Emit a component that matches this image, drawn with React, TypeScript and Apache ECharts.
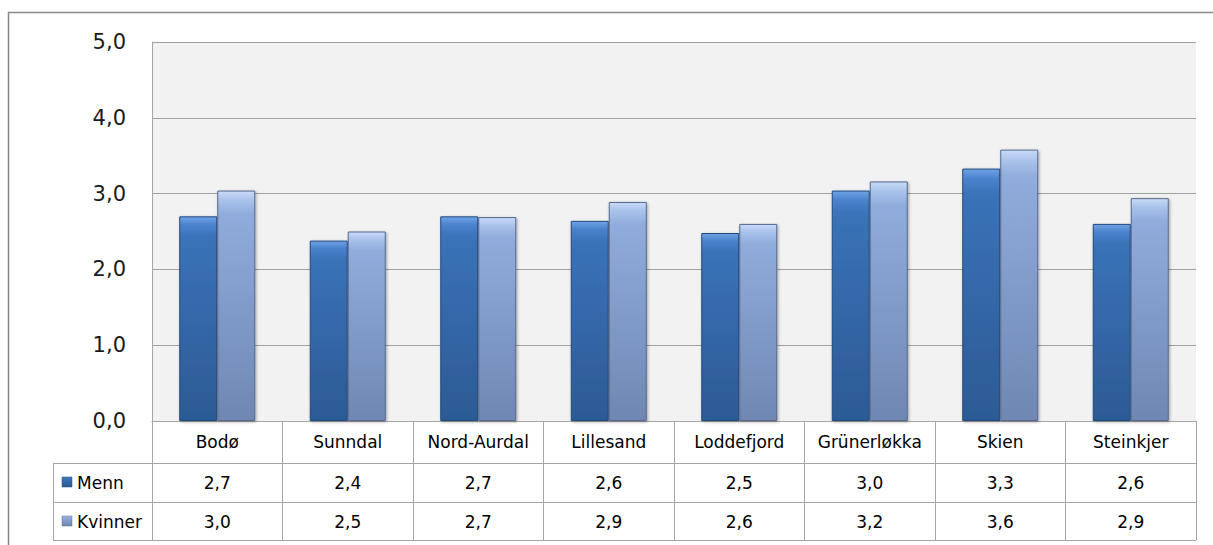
import React, { useEffect, useRef } from "react";
import * as echarts from "echarts";

const categories = ["Bodø", "Sunndal", "Nord-Aurdal", "Lillesand", "Loddefjord", "Grünerløkka", "Skien", "Steinkjer"];
const menn = [2.7, 2.38, 2.7, 2.64, 2.48, 3.04, 3.33, 2.6];
const kvinner = [3.04, 2.5, 2.69, 2.89, 2.6, 3.16, 3.58, 2.94];
const seriesNames = ["Menn", "Kvinner"];
const yMin = 0;
const yMax = 5;
const yInterval = 1;

const fmt = (v: number) => (Math.round(v * 10) / 10).toFixed(1).replace(".", ",");

const FONT = "DejaVu Sans";
const LINE = "#a6a6a6";

export default function App() {
  const ref = useRef<HTMLDivElement>(null);
  useEffect(() => {
    if (!ref.current) return;
    const chart = echarts.init(ref.current, null, { renderer: "svg" });
    const G = echarts.graphic.LinearGradient;
    const mennFill = new G(0, 0, 0, 1, [
      { offset: 0, color: "#6fa3e6" },
      { offset: 0.04, color: "#4a82cc" },
      { offset: 0.1, color: "#3a72b8" },
      { offset: 1, color: "#2c5a94" },
    ]);
    const kvinnerFill = new G(0, 0, 0, 1, [
      { offset: 0, color: "#c8dbf7" },
      { offset: 0.04, color: "#a9c2ea" },
      { offset: 0.1, color: "#90acdc" },
      { offset: 1, color: "#6f87b2" },
    ]);
    const gl = 53, gr = 1196;
    const hline = (y: number, x1: number, x2: number) => ({
      type: "line",
      shape: { x1, y1: y, x2, y2: y },
      style: { stroke: LINE, lineWidth: 1 },
      silent: true,
    });
    chart.setOption({
      animation: false,
      backgroundColor: "#ffffff",
      grid: {
        left: 152,
        top: 42,
        width: 1044,
        height: 379,
        show: true,
        backgroundColor: "#f2f2f2",
        borderWidth: 0,
      },
      xAxis: {
        type: "category",
        data: categories,
        boundaryGap: true,
        axisLine: { show: true, lineStyle: { color: LINE, width: 1 } },
        axisTick: { show: true, length: 119, lineStyle: { color: LINE, width: 1 } },
        axisLabel: {
          interval: 0,
          margin: 0,
          formatter: (value: string, idx: number) =>
            `{h|${value}}\n{v|${fmt(menn[idx])}}\n{v|${fmt(kvinner[idx])}}`,
          rich: {
            h: { fontFamily: FONT, fontSize: 17, color: "#000", lineHeight: 42, align: "center" },
            v: { fontFamily: FONT, fontSize: 17, color: "#000", lineHeight: 39, align: "center" },
          },
        },
      },
      yAxis: {
        type: "value",
        min: yMin,
        max: yMax,
        interval: yInterval,
        axisLine: { show: true, lineStyle: { color: LINE, width: 1 } },
        axisTick: { show: false },
        splitLine: { show: true, lineStyle: { color: "#a0a0a0", width: 1 } },
        axisLabel: {
          margin: 26,
          fontFamily: FONT,
          fontSize: 21,
          color: "#1a1a1a",
          formatter: (v: number) => v.toFixed(1).replace(".", ","),
        },
      },
      series: [
        {
          name: seriesNames[0],
          type: "bar",
          data: menn,
          barWidth: 38,
          barGap: "0%",
          itemStyle: {
            color: mennFill,
            borderColor: "#234a7e",
            borderWidth: 1,
            shadowBlur: 3,
            shadowColor: "rgba(0,0,0,0.35)",
            shadowOffsetX: 1,
            shadowOffsetY: 1,
          },
        },
        {
          name: seriesNames[1],
          type: "bar",
          data: kvinner,
          barWidth: 38,
          itemStyle: {
            color: kvinnerFill,
            borderColor: "#56698f",
            borderWidth: 1,
            shadowBlur: 3,
            shadowColor: "rgba(0,0,0,0.35)",
            shadowOffsetX: 1,
            shadowOffsetY: 1,
          },
        },
      ],
      graphic: [
        {
          type: "rect",
          shape: { x: 8.5, y: 12.5, width: 1400, height: 800 },
          style: { fill: "none", stroke: "#878787", lineWidth: 1.5 },
          silent: true,
          z: -10,
        },
        hline(463.5, gl, gr),
        hline(502.5, gl, gr),
        hline(540.5, gl, gr),
        {
          type: "line",
          shape: { x1: gl + 0.5, y1: 463, x2: gl + 0.5, y2: 541 },
          style: { stroke: LINE, lineWidth: 1 },
          silent: true,
        },
        {
          type: "rect",
          shape: { x: 62, y: 477, width: 10, height: 10 },
          style: { fill: mennFill, stroke: "#234a7e", lineWidth: 0.5 },
          silent: true,
        },
        {
          type: "text",
          x: 77,
          y: 483,
          style: { text: seriesNames[0], fontFamily: FONT, fontSize: 17, fill: "#000", verticalAlign: "middle" },
          silent: true,
        },
        {
          type: "rect",
          shape: { x: 62, y: 516, width: 10, height: 10 },
          style: { fill: kvinnerFill, stroke: "#56698f", lineWidth: 0.5 },
          silent: true,
        },
        {
          type: "text",
          x: 77,
          y: 522,
          style: { text: seriesNames[1], fontFamily: FONT, fontSize: 17, fill: "#000", verticalAlign: "middle" },
          silent: true,
        },
      ],
    });
    return () => chart.dispose();
  }, []);
  return (
    <div
      ref={ref}
      style={{ position: "absolute", left: 0, top: 0, width: 1213, height: 545, background: "#fff" }}
    />
  );
}
